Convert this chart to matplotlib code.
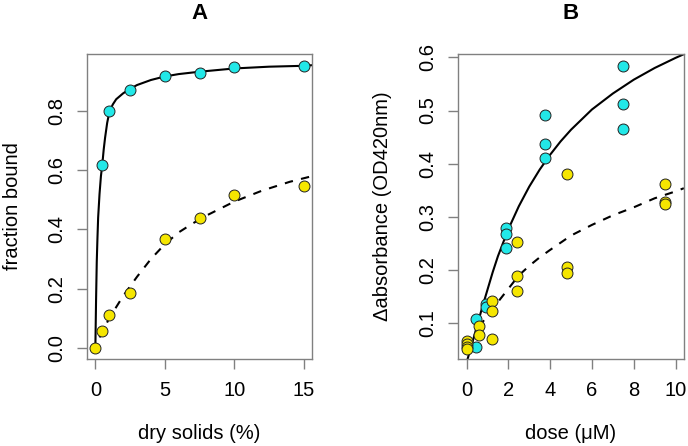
import matplotlib
matplotlib.use('Agg')
import matplotlib.pyplot as plt

plt.rcParams['font.family'] = ['Liberation Sans', 'DejaVu Sans']

# panel A: fraction bound vs dry solids
a_x = [0, 0.5, 1, 2.5, 5, 7.5, 10, 15]
a_cyan = [0.618, 0.80, 0.871, 0.919, 0.928, 0.949, 0.954]
a_yellow = [0.0, 0.058, 0.110, 0.184, 0.369, 0.439, 0.517, 0.547]
# fitted curves
a_fit_x = [0.0, 0.05, 0.1, 0.15, 0.2, 0.3, 0.4, 0.5, 0.6, 0.7, 0.85, 1.0, 1.25, 1.5,
           2.0, 2.5, 3.0, 4.0, 5.0, 6.0, 7.5, 10.0, 12.5, 15.0, 15.6]
a_fit_solid = [0.0, 0.16, 0.29, 0.37, 0.44, 0.52, 0.58, 0.62, 0.67, 0.71, 0.76, 0.795,
               0.822, 0.84, 0.86, 0.875, 0.888, 0.905, 0.917, 0.925, 0.933, 0.944,
               0.95, 0.953, 0.955]
a_dash_x = [0.3, 1, 2, 3, 4, 5, 6, 7, 8, 10, 12, 14, 15.6]
a_dash_y = [0.035, 0.10, 0.175, 0.24, 0.30, 0.35, 0.39, 0.42, 0.447, 0.494, 0.531, 0.561, 0.58]

# panel B: absorbance vs dose
b_cyan_x = [0.47, 0.47, 0.94, 0.94, 1.88, 1.88, 1.88, 3.75, 3.75, 3.75, 7.5, 7.5, 7.5]
b_cyan_y = [0.108, 0.055, 0.137, 0.130, 0.279, 0.268, 0.241, 0.491, 0.437, 0.411,
            0.584, 0.513, 0.466]
b_yel_x = [0, 0, 0, 0, 0.6, 0.6, 1.2, 1.2, 1.2, 2.4, 2.4, 2.4, 4.8, 4.8, 4.8, 9.5, 9.5, 9.5]
b_yel_y = [0.067, 0.061, 0.055, 0.051, 0.094, 0.078, 0.141, 0.123, 0.070, 0.252, 0.188,
           0.161, 0.381, 0.205, 0.195, 0.362, 0.328, 0.324]
b_fit_x = [0.05, 0.25, 0.5, 0.75, 1, 1.25, 1.5, 2, 2.5, 3, 3.5, 4, 4.5, 5, 6, 7, 8, 9,
           10, 10.4]
b_fit_solid = [0.033, 0.06, 0.095, 0.13, 0.163, 0.196, 0.226, 0.277, 0.320, 0.357,
               0.389, 0.417, 0.442, 0.464, 0.502, 0.532, 0.558, 0.580, 0.599, 0.606]
b_dash_x = [0.6, 1, 1.5, 2, 2.5, 3, 3.5, 4, 5, 6, 7, 8, 9, 10, 10.4]
b_dash_y = [0.093, 0.115, 0.14, 0.165, 0.19, 0.208, 0.224, 0.238, 0.265, 0.285, 0.303,
            0.318, 0.335, 0.348, 0.354]

fig = plt.figure(figsize=(6.88, 4.46), dpi=100)
axA = fig.add_axes([0.1265, 0.195, 0.327, 0.684])
axB = fig.add_axes([0.666, 0.195, 0.328, 0.684])

pt = dict(marker='o', s=62, edgecolors='#222222', linewidths=0.7, zorder=3)

axA.plot(a_fit_x, a_fit_solid, color='black', lw=1.5, zorder=2)
axA.plot(a_dash_x, a_dash_y, color='black', lw=1.5, dashes=(4, 4), zorder=2)
axA.scatter(a_x[1:], a_cyan, color='#22E8E8', **pt)
axA.scatter(a_x, a_yellow, color='#F5E600', **pt)
axA.set_xlim(-0.6, 15.6)
axA.set_ylim(-0.038, 0.993)
axA.set_xticks([0, 5, 10, 15])
axA.set_yticks([0.0, 0.2, 0.4, 0.6, 0.8])
axA.set_yticklabels(['0.0', '0.2', '0.4', '0.6', '0.8'])
axA.set_title('A', fontsize=16, fontweight='bold', pad=25)
axA.set_xlabel('dry solids (%)', fontsize=14.5, labelpad=17)
axA.set_ylabel('fraction bound', fontsize=14.5, labelpad=18)

axB.plot(b_fit_x, b_fit_solid, color='black', lw=1.5, zorder=2)
axB.plot(b_dash_x, b_dash_y, color='black', lw=1.5, dashes=(4, 4), zorder=2)
axB.scatter(b_cyan_x, b_cyan_y, color='#22E8E8', **pt)
axB.scatter(b_yel_x, b_yel_y, color='#F5E600', **pt)
axB.set_xlim(-0.4, 10.4)
axB.set_ylim(0.0328, 0.6064)
axB.set_xticks([0, 2, 4, 6, 8, 10])
axB.set_yticks([0.1, 0.2, 0.3, 0.4, 0.5, 0.6])
axB.set_title('B', fontsize=16, fontweight='bold', pad=25)
axB.set_xlabel('dose (\u03bcM)', fontsize=14.5, labelpad=17)
axB.set_ylabel('\u0394absorbance (OD420nm)', fontsize=14.5, labelpad=19)

for ax in (axA, axB):
    for sp in ax.spines.values():
        sp.set_color('#808080')
        sp.set_linewidth(1.0)
    ax.tick_params(axis='both', length=7, width=1.0, color='#808080',
                   labelsize=14.5, labelcolor='black')
    ax.tick_params(axis='x', pad=9)
    ax.tick_params(axis='y', pad=8, labelrotation=90)
    plt.setp(ax.get_yticklabels(), va='center')

fig.savefig('out.png', dpi=100)
